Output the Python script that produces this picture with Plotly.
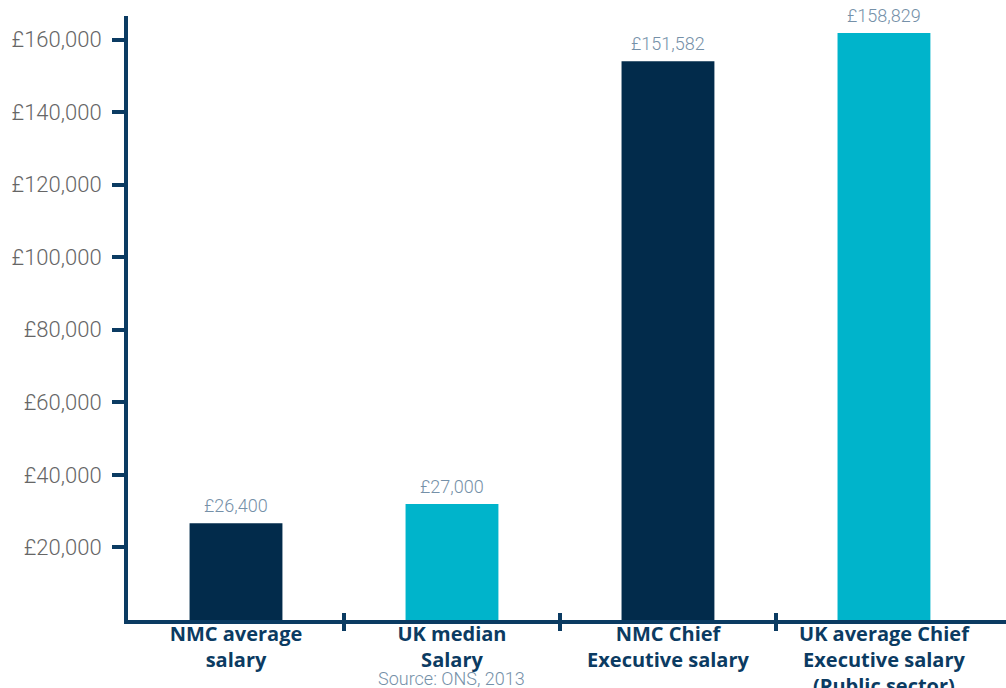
import plotly.graph_objects as go

categories = [
    "NMC average<br>salary",
    "UK median<br>Salary",
    "NMC Chief<br>Executive salary",
    "UK average Chief<br>Executive salary<br>(Public sector)",
]
# bar heights as drawn in the picture
bar_values = [26700, 32000, 154000, 161800]
# printed value labels
value_labels = ["£26,400", "£27,000", "£151,582", "£158,829"]
bar_colors = ["#022b4b", "#00b4cb", "#022b4b", "#00b4cb"]
y_ticks = [20000, 40000, 60000, 80000, 100000, 120000, 140000, 160000]
y_ticktext = ["£20,000", "£40,000", "£60,000", "£80,000",
              "£100,000", "£120,000", "£140,000", "£160,000"]
source_note = "Source: ONS, 2013"

NAVY = "#0b3b62"
LABEL = "#7590a8"

fig = go.Figure()
fig.add_trace(go.Bar(
    x=categories, y=bar_values, marker=dict(color=bar_colors, line=dict(width=0)),
    width=0.43, hoverinfo="skip",
))
# invisible traces to anchor the overlay axes carrying boundary tick marks
fig.add_trace(go.Scatter(x=[0], y=[0], xaxis="x2", mode="markers",
                         marker=dict(opacity=0), hoverinfo="skip", showlegend=False))
fig.add_trace(go.Scatter(x=[0], y=[0], xaxis="x3", mode="markers",
                         marker=dict(opacity=0), hoverinfo="skip", showlegend=False))

annotations = [
    dict(x=c, y=v, xref="x", yref="y", text=t, showarrow=False,
         yanchor="bottom", yshift=5,
         font=dict(family="Roboto", size=18, color=LABEL, weight=300))
    for c, v, t in zip(categories, bar_values, value_labels)
]
annotations.append(dict(
    x=categories[1], y=0, xref="x", yref="paper", yshift=-46,
    text=source_note, showarrow=False, yanchor="top",
    font=dict(family="Roboto", size=18, color=LABEL, weight=300),
))

xr = [-0.5, 3.565]
fig.update_layout(
    width=1006, height=688,
    margin=dict(l=128, r=0, t=16, b=68),
    plot_bgcolor="white", paper_bgcolor="white",
    showlegend=False,
    xaxis=dict(
        type="category", range=xr, showgrid=False, zeroline=False,
        showline=False, ticks="", anchor="free", position=0,
        tickfont=dict(family="Open Sans", size=20, color=NAVY, weight=700),
        ticklabelstandoff=0, automargin=False,
    ),
    xaxis2=dict(
        overlaying="x", anchor="y", side="bottom", range=xr, showgrid=False,
        zeroline=False, showline=True, linecolor=NAVY, linewidth=4,
        tickvals=[0.5, 1.5, 2.5],
        ticks="outside", ticklen=7, tickwidth=4, tickcolor=NAVY,
        showticklabels=False, automargin=False,
    ),
    xaxis3=dict(
        overlaying="x", anchor="y", side="bottom", range=xr, showgrid=False,
        zeroline=False, showline=False, tickvals=[0.5, 1.5, 2.5],
        ticks="inside", ticklen=7, tickwidth=4, tickcolor=NAVY,
        showticklabels=False, automargin=False,
    ),
    yaxis=dict(
        range=[0, 166500], showgrid=False, zeroline=False,
        showline=True, linecolor=NAVY, linewidth=4,
        tickvals=y_ticks, ticktext=y_ticktext,
        ticks="outside", ticklen=12, tickwidth=4, tickcolor=NAVY,
        tickfont=dict(family="Roboto", size=22, color="#666666", weight=300),
        ticklabelstandoff=6, automargin=False,
    ),
    annotations=annotations,
)

fig.write_html("out.html")
